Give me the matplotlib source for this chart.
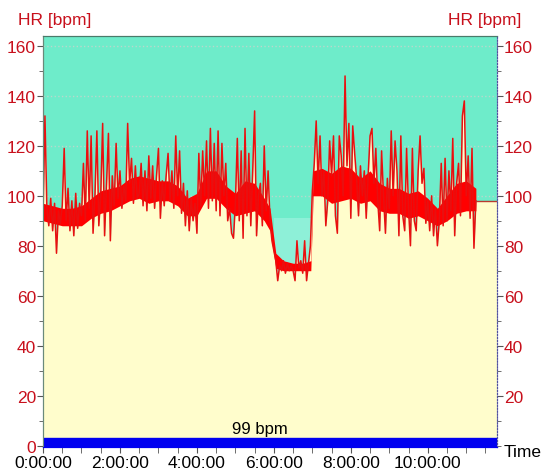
import numpy as np
import matplotlib.pyplot as plt
from matplotlib.ticker import MultipleLocator

plt.rcParams['font.family'] = ['Liberation Sans', 'DejaVu Sans']

# heart rate, one sample every 3 minutes (peaks and troughs)
step_h = 0.05
hr_bpm = [
    92, 132, 95, 88, 99, 86, 97, 77, 94, 89,
    96, 119, 90, 103, 86, 98, 84, 101, 87, 97,
    92, 113, 90, 126, 95, 124, 85, 100, 126, 88,
    100, 129, 84, 104, 125, 82, 108, 96, 121, 99,
    110, 95, 104, 98, 129, 105, 115, 97, 112, 99,
    101, 113, 96, 110, 94, 116, 99, 112, 95, 108,
    119, 91, 106, 96, 108, 117, 98, 110, 95, 124,
    100, 118, 93, 105, 88, 102, 86, 99, 90, 97,
    85, 117, 96, 118, 100, 122, 95, 127, 98, 121,
    94, 126, 92, 121, 100, 113, 90, 95, 85, 83,
    97, 123, 90, 118, 83, 127, 92, 117, 88, 110,
    134, 84, 100, 105, 88, 120, 94, 110, 90, 82,
    78, 74, 66, 72, 70, 74, 69, 73, 70, 72,
    70, 66, 82, 71, 74, 69, 82, 66, 73, 80,
    102, 113, 130, 105, 124, 100, 110, 88, 98, 122,
    108, 124, 92, 85, 124, 116, 100, 148, 112, 129,
    91, 128, 117, 107, 92, 112, 100, 110, 91, 108,
    124, 127, 105, 119, 98, 86, 118, 100, 85, 107,
    95, 126, 100, 122, 110, 84, 124, 92, 86, 119,
    95, 80, 119, 90, 86, 110, 124, 105, 111, 89,
    98, 86, 100, 84, 95, 80, 90, 113, 88, 115,
    90, 110, 94, 123, 84, 105, 113, 92, 132, 138,
    100, 116, 91, 119, 79, 98,
]

# dense core of the trace
band_hours = [
    0, 0.25, 0.5, 0.75, 1, 1.25, 1.5, 1.75, 2, 2.25, 2.5, 2.75,
    3, 3.25, 3.5, 3.75, 4, 4.25, 4.5, 4.75, 5, 5.25, 5.5, 5.75,
    5.9, 6.05, 6.25, 6.5, 6.75, 6.96, 7.02,
    7.25, 7.5, 7.75, 8, 8.25, 8.5, 8.75, 9, 9.25, 9.5, 9.75,
    10, 10.25, 10.5, 10.75, 11, 11.25,
]
band_low = [
    90, 89, 88, 88, 88, 91, 93, 94, 96, 98, 99, 97,
    98, 98, 96, 92, 92, 99, 99, 95, 92, 93, 94, 90,
    86, 71, 70, 70, 70, 70, 100,
    100, 97, 98, 99, 97, 98, 94, 93, 93, 91, 92,
    90, 88, 90, 93, 94, 94,
]
band_high = [
    97, 96, 95, 95, 96, 99, 102, 103, 104, 107, 108, 107,
    106, 106, 104, 99, 101, 110, 110, 104, 101, 106, 105, 99,
    95, 77, 74, 73, 73, 74, 110,
    111, 109, 112, 111, 107, 110, 105, 103, 103, 101, 102,
    99, 95, 100, 105, 106, 103,
]

tail_end_h = 11.8
tail_bpm = 98
mean_label = '99 bpm'
sleep_start_h, sleep_end_h, sleep_top = 6.0, 6.98, 91
xtick_hours = [0, 2, 4, 6, 8, 10]
xtick_labels = ['0:00:00', '2:00:00', '4:00:00', '6:00:00', '8:00:00', '10:00:00']

teal = '#6eecca'
teal_light = '#8ef0d8'
yellow = '#fffdcc'
red = '#ff0000'
dark_red = '#c8101c'

t = np.arange(len(hr_bpm)) * step_h
t_all = np.append(t, tail_end_h)
hr_all = np.append(hr_bpm, tail_bpm)

fig = plt.figure(figsize=(5.46, 4.77), dpi=100)
ax = fig.add_axes([0.0788, 0.0608, 0.8315, 0.8616])
ax.set_facecolor(teal)
ax.set_xlim(0, tail_end_h)
ax.set_ylim(-0.6, 164)

ax.grid(True, axis='y', color='#b8d8cc', linestyle=':', linewidth=1, zorder=0)
ax.set_axisbelow(True)

ax.fill_between([sleep_start_h, sleep_end_h], 0, sleep_top, color=teal_light, lw=0, zorder=1)
ax.fill_between(t_all, -1, hr_all, color=yellow, lw=0, zorder=2)
ax.fill_between(band_hours, band_low, band_high, color=red, lw=0, zorder=3)
ax.plot(t, hr_bpm, color='#e81010', lw=1.1, zorder=3)
ax.plot([t[-1], tail_end_h], [tail_bpm, tail_bpm], color='#b83a30', lw=1, zorder=3)
ax.axhspan(-1, 3, color='#0000f0', zorder=4)
ax.text(t[-1] / 2, 7, mean_label, ha='center', va='center', fontsize=12, zorder=5)

ax.set_xticks(xtick_hours)
ax.set_xticklabels(xtick_labels)
ax.xaxis.set_minor_locator(MultipleLocator(0.5))
ax.yaxis.set_major_locator(MultipleLocator(20))
ax.yaxis.set_minor_locator(MultipleLocator(10))
ax.tick_params(axis='y', which='both', direction='out', colors='#555555',
               labelcolor=dark_red, labelsize=12.5)
ax.tick_params(axis='y', which='major', length=4, pad=1)
ax.tick_params(axis='y', which='minor', length=3)
ax.tick_params(axis='x', which='both', direction='out', colors='#555555',
               labelcolor='black', labelsize=12.5)
ax.tick_params(axis='x', which='major', length=4, pad=2)
ax.tick_params(axis='x', which='minor', length=4)

# right-hand scale (no 0 label there, "Time" sits in its place)
ax2 = ax.twinx()
ax2.set_ylim(ax.get_ylim())
ax2.set_yticks(np.arange(20, 161, 20))
ax2.yaxis.set_minor_locator(MultipleLocator(10))
ax2.tick_params(axis='y', which='both', direction='out', colors='#555555',
                labelcolor=dark_red, labelsize=12.5)
ax2.tick_params(axis='y', which='major', length=4, pad=1)
ax2.tick_params(axis='y', which='minor', length=3)

for a in (ax, ax2):
    a.spines['left'].set_color('#6a8a7a')
    a.spines['top'].set_color('#4a7a6a')
    a.spines['bottom'].set_color('#0000f0')
    a.spines['right'].set_color('#5050a0')
    a.spines['right'].set_linestyle(':')

fig.text(18 / 546, 1 - 21 / 477, 'HR [bpm]', color=dark_red, fontsize=12.5,
         ha='left', va='center')
fig.text(521 / 546, 1 - 21 / 477, 'HR [bpm]', color=dark_red, fontsize=12.5,
         ha='right', va='center')
fig.text(504 / 546, 1 - 453 / 477, 'Time', color='black', fontsize=12.5,
         ha='left', va='center')

fig.savefig('out.png', dpi=100)
